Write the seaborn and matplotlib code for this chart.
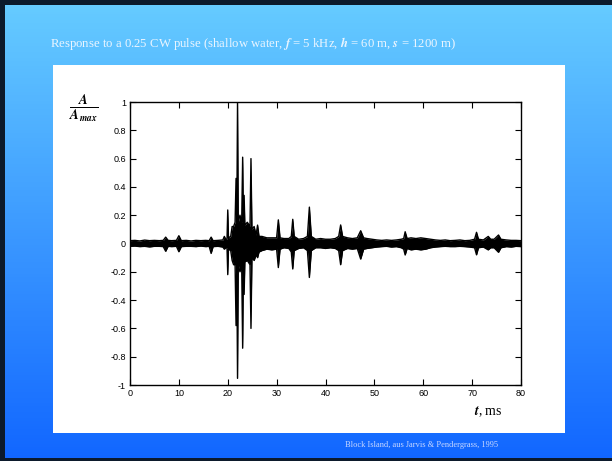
import numpy as np
import pandas as pd
import matplotlib
matplotlib.use("Agg")
import matplotlib.pyplot as plt
import seaborn as sns
from matplotlib.patches import Rectangle
from matplotlib.colors import LinearSegmentedColormap

# ---- data: envelope (max / min) of the received signal ----
t_ms = [0.0, 1.0, 2.0, 3.0, 4.0, 5.0, 6.0, 6.8, 7.3, 7.8, 8.5, 9.5, 10.0, 10.5, 11.5,
        12.5, 13.5, 14.5, 15.5, 16.2, 16.6, 17.0, 18.0, 19.0, 19.3, 19.6, 19.85, 20.0,
        20.15, 20.6, 20.9, 21.2, 21.5, 21.7, 21.85, 22.0, 22.15, 22.5, 22.85, 23.05,
        23.2, 23.35, 23.5, 24.0, 24.55, 24.75, 24.95, 25.4, 25.8, 26.1, 26.4, 27.0,
        28.0, 29.0, 30.0, 30.35, 30.7, 31.5, 32.5, 33.0, 33.3, 33.6, 34.5, 35.5, 36.3,
        36.7, 37.1, 38.0, 39.0, 40.0, 41.0, 42.0, 42.7, 43.1, 43.5, 44.5, 45.5, 46.5,
        47.2, 47.8, 48.5, 49.5, 50.5, 51.5, 52.5, 53.5, 54.5, 55.5, 56.0, 56.3, 56.7,
        57.5, 58.5, 59.5, 60.5, 61.5, 62.5, 63.5, 64.5, 65.5, 66.5, 67.5, 68.5, 69.5,
        70.5, 70.9, 71.3, 72.3, 73.3, 73.8, 74.5, 75.4, 75.9, 77.0, 78.0, 79.0, 80.0]
env_upper = [0.02, 0.022, 0.018, 0.024, 0.02, 0.022, 0.02, 0.022, 0.045, 0.022, 0.02,
             0.022, 0.055, 0.02, 0.022, 0.018, 0.022, 0.02, 0.022, 0.02, 0.045, 0.02,
             0.022, 0.025, 0.05, 0.03, 0.03, 0.237, 0.04, 0.05, 0.12, 0.12, 0.15, 0.46,
             0.15, 1.0, 0.15, 0.2, 0.15, 0.61, 0.15, 0.34, 0.13, 0.15, 0.12, 0.60, 0.1,
             0.12, 0.06, 0.13, 0.05, 0.05, 0.04, 0.04, 0.04, 0.167, 0.04, 0.035, 0.035,
             0.05, 0.171, 0.05, 0.03, 0.035, 0.05, 0.257, 0.05, 0.03, 0.035, 0.03, 0.03,
             0.035, 0.05, 0.131, 0.05, 0.04, 0.035, 0.04, 0.09, 0.04, 0.035, 0.03, 0.025,
             0.022, 0.025, 0.022, 0.025, 0.03, 0.035, 0.083, 0.035, 0.04, 0.035, 0.04,
             0.035, 0.03, 0.025, 0.022, 0.025, 0.02, 0.022, 0.025, 0.02, 0.022, 0.03,
             0.079, 0.03, 0.025, 0.05, 0.03, 0.03, 0.06, 0.03, 0.025, 0.022, 0.022, 0.02]
env_lower = [-0.02, -0.018, -0.022, -0.02, -0.024, -0.02, -0.02, -0.022, -0.055, -0.02,
             -0.022, -0.02, -0.058, -0.022, -0.02, -0.02, -0.022, -0.018, -0.022, -0.02,
             -0.07, -0.022, -0.02, -0.025, -0.04, -0.03, -0.03, -0.22, -0.04, -0.05,
             -0.12, -0.15, -0.15, -0.58, -0.15, -0.953, -0.15, -0.2, -0.15, -0.74, -0.15,
             -0.36, -0.13, -0.12, -0.15, -0.60, -0.1, -0.12, -0.08, -0.10, -0.06, -0.05,
             -0.04, -0.045, -0.04, -0.17, -0.04, -0.03, -0.035, -0.06, -0.18, -0.05,
             -0.035, -0.03, -0.05, -0.24, -0.05, -0.03, -0.03, -0.035, -0.03, -0.035,
             -0.05, -0.15, -0.05, -0.035, -0.04, -0.035, -0.11, -0.04, -0.035, -0.03,
             -0.025, -0.022, -0.02, -0.025, -0.022, -0.03, -0.04, -0.081, -0.035, -0.045,
             -0.04, -0.045, -0.04, -0.03, -0.025, -0.022, -0.02, -0.022, -0.022, -0.02,
             -0.022, -0.025, -0.03, -0.08, -0.03, -0.025, -0.045, -0.03, -0.03, -0.062,
             -0.03, -0.022, -0.025, -0.02, -0.022]
x_ticks = [0, 10, 20, 30, 40, 50, 60, 70, 80]
y_ticks = [-1, -0.8, -0.6, -0.4, -0.2, 0, 0.2, 0.4, 0.6, 0.8, 1]
y_tick_labels = ['-1', '-0.8', '-0.6', '-0.4', '-0.2', '0', '0.2', '0.4', '0.6', '0.8', '1']

sns.set_theme(style="ticks")
plt.rcParams['font.family'] = ['Liberation Sans', 'DejaVu Sans']
plt.rcParams['mathtext.fontset'] = 'stix'
plt.rcParams['axes.unicode_minus'] = False

W, H = 612, 461
fig = plt.figure(figsize=(W / 100, H / 100), dpi=100, facecolor="#66CCFF")

# slide background gradient drawn as thin horizontal strips
bg = fig.add_axes([0, 0, 1, 1], zorder=-10)
bg.set_axis_off()
bg.set_xlim(0, 1); bg.set_ylim(0, 1)
cmap = LinearSegmentedColormap.from_list("slide", ["#1166FF", "#66CCFF"])
n_strips = 160
for i in range(n_strips):
    y0 = i / n_strips
    bg.add_patch(Rectangle((0, y0), 1, 1.0 / n_strips + 0.002,
                           fc=cmap(y0), ec='none'))
dark = "#0c1a2c"
bg.add_patch(Rectangle((0, 0), 5 / W, 1, fc=dark, ec='none'))
bg.add_patch(Rectangle((0, 1 - 5 / H), 1, 5 / H, fc=dark, ec='none'))
bg.add_patch(Rectangle((0, 0), 1, 3 / H, fc=dark, ec='none'))
# white panel
bg.add_patch(Rectangle((53 / W, (H - 433) / H), 512 / W, 368 / H, fc='white', ec='none'))

ax = fig.add_axes([130 / W, (H - 385) / H, 391 / W, 283 / H])
df = pd.DataFrame({"t": t_ms, "upper": env_upper, "lower": env_lower})
sns.lineplot(data=df, x="t", y="upper", color="black", lw=1.0, ax=ax)
sns.lineplot(data=df, x="t", y="lower", color="black", lw=1.0, ax=ax)
ax.fill_between(df["t"], df["lower"], df["upper"], color="black", lw=0)

ax.set_xlim(0, 80)
ax.set_ylim(-1, 1)
ax.set_xticks(x_ticks)
ax.set_xticklabels([str(v) for v in x_ticks])
ax.set_yticks(y_ticks)
ax.set_yticklabels(y_tick_labels)
ax.set_xlabel("")
ax.set_ylabel("")
ax.tick_params(direction='in', top=True, right=True, length=4, width=0.8,
               labelsize=6.5, pad=3, colors='black')
for s in ax.spines.values():
    s.set_linewidth(1.0)
    s.set_color('black')

fig.text(253 / W, (H - 43) / H,
         r"Response to a 0.25 CW pulse (shallow water, $\mathbfit{f}$ = 5 kHz, "
         r"$\mathbfit{h}$ = 60 m, $\mathbfit{s}$ = 1200 m)",
         ha='center', va='center', fontsize=9.2, color="#EAF5FF",
         family=['Liberation Serif', 'DejaVu Serif'])
fig.text(84 / W, (H - 108) / H,
         r"$\frac{\mathbfit{A}}{\mathbfit{A}_{\mathbfit{max}}}$",
         ha='center', va='center', fontsize=14, color='black')
fig.text(488 / W, (H - 412) / H, r"$\mathbfit{t}$, ms", ha='center', va='center',
         fontsize=10, color='black', family=['Liberation Serif', 'DejaVu Serif'])
fig.text(422 / W, (H - 445) / H, "Block Island, aus Jarvis & Pendergrass, 1995",
         ha='center', va='center', fontsize=6, color="#C8D8FF",
         family=['Liberation Serif', 'DejaVu Serif'])

fig.savefig("out.png", dpi=100, facecolor=fig.get_facecolor())
